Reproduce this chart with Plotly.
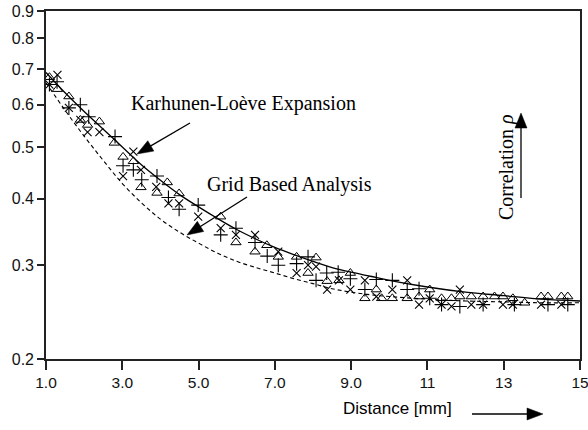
import math
import plotly.graph_objects as go

# ---- data -------------------------------------------------------------
# Karhunen-Loeve expansion curve (solid)
kl_x = [1.0, 1.5, 2.0, 2.5, 3.0, 3.5, 4.0, 4.5, 5.0, 5.5, 6.0, 6.5, 7.0, 7.5,
        8.0, 8.5, 9.0, 9.5, 10.0, 11.0, 12.0, 13.0, 14.0, 15.0]
kl_y = [0.690, 0.632, 0.583, 0.540, 0.500, 0.463, 0.433, 0.407, 0.386, 0.367,
        0.350, 0.336, 0.324, 0.314, 0.305, 0.297, 0.291, 0.286, 0.281, 0.273,
        0.267, 0.263, 0.259, 0.257]

# Grid based analysis curve (dashed)
gb_x = [1.0, 1.5, 2.0, 2.5, 3.0, 3.5, 4.0, 4.5, 5.0, 5.5, 6.0, 6.5, 7.0, 7.5,
        8.0, 8.5, 9.0, 9.5, 10.0, 11.0, 12.0, 13.0, 14.0, 15.0]
gb_y = [0.660, 0.586, 0.524, 0.472, 0.427, 0.393, 0.366, 0.346, 0.330, 0.316,
        0.305, 0.297, 0.290, 0.283, 0.277, 0.271, 0.267, 0.264, 0.262, 0.259,
        0.257, 0.256, 0.255, 0.255]

# measured samples, three marker types
tri_x = [1.09, 1.30, 1.60, 1.90, 2.09, 2.40, 2.79, 3.02, 3.29, 3.49, 3.91, 4.18,
         4.49, 5.58, 5.98, 6.48, 6.79, 7.09, 7.57, 7.87, 8.08, 8.37, 8.68, 8.98,
         9.36, 9.66, 9.80, 10.08, 10.47, 10.78, 11.06, 11.37, 11.63, 11.85, 12.15,
         12.46, 12.76, 12.98, 13.24, 13.55, 13.98, 14.16, 14.51, 14.68]
tri_y = [0.676, 0.642, 0.622, 0.562, 0.550, 0.558, 0.509, 0.479, 0.470, 0.420,
         0.410, 0.429, 0.409, 0.370, 0.331, 0.318, 0.327, 0.311, 0.311, 0.290,
         0.310, 0.280, 0.281, 0.290, 0.260, 0.270, 0.260, 0.260, 0.260, 0.262,
         0.270, 0.260, 0.260, 0.262, 0.262, 0.262, 0.262, 0.262, 0.260, 0.255,
         0.262, 0.262, 0.262, 0.262]

plus_x = [1.09, 1.29, 1.60, 1.90, 2.12, 2.81, 3.02, 3.29, 3.51, 3.91, 4.21, 4.49,
          4.99, 5.58, 5.98, 6.48, 6.80, 7.09, 7.57, 7.87, 8.08, 8.36, 8.66, 8.98,
          9.36, 9.66, 10.08, 10.47, 10.78, 11.06, 11.37, 11.85, 12.46, 13.28,
          14.16, 14.68]
plus_y = [0.655, 0.663, 0.592, 0.600, 0.570, 0.523, 0.461, 0.453, 0.434, 0.441,
          0.402, 0.382, 0.389, 0.342, 0.352, 0.331, 0.312, 0.300, 0.302, 0.311,
          0.281, 0.290, 0.291, 0.283, 0.270, 0.282, 0.281, 0.270, 0.271, 0.260,
          0.253, 0.251, 0.253, 0.253, 0.253, 0.253]

cross_x = [1.09, 1.30, 1.60, 1.90, 2.09, 2.40, 3.02, 3.29, 3.49, 3.89, 4.21, 4.49,
           4.99, 5.58, 5.98, 6.48, 7.09, 7.57, 7.87, 8.08, 8.37, 8.68, 8.98, 9.36,
           9.66, 10.08, 10.47, 10.78, 11.06, 11.37, 11.63, 11.85, 12.15, 12.46,
           12.98, 13.24, 13.98, 14.51]
cross_y = [0.655, 0.683, 0.592, 0.562, 0.533, 0.533, 0.441, 0.490, 0.453, 0.421,
           0.392, 0.392, 0.370, 0.352, 0.342, 0.342, 0.318, 0.290, 0.300, 0.298,
           0.270, 0.281, 0.270, 0.281, 0.262, 0.270, 0.281, 0.253, 0.260, 0.253,
           0.251, 0.270, 0.253, 0.253, 0.253, 0.253, 0.253, 0.253]

x_ticks = [1, 3, 5, 7, 9, 11, 13, 15]
x_tick_text = ["1.0", "3.0", "5.0", "7.0", "9.0", "11", "13", "15"]
y_ticks = [0.2, 0.3, 0.4, 0.5, 0.6, 0.7, 0.8, 0.9]
y_tick_text = ["0.2", "0.3", "0.4", "0.5", "0.6", "0.7", "0.8", "0.9"]

# ---- geometry helpers --------------------------------------------------
W, H = 588, 430
ML, MR, MT, MB = 46, 8, 11, 71
PW, PH = W - ML - MR, H - MT - MB


def paper(px, py):
    return (px - ML) / PW, (H - MB - py) / PH


def arrow(x0, y0, x1, y1, head_len=15, head_half=5.5, width=1.3):
    """Shaft from (x0, y0) plus a filled head at (x1, y1), in pixels."""
    dx, dy = x1 - x0, y1 - y0
    d = math.hypot(dx, dy)
    ux, uy = dx / d, dy / d
    bx, by = x1 - ux * head_len, y1 - uy * head_len
    nx, ny = -uy, ux
    a0 = paper(x0, y0)
    a1 = paper(bx + ux * 2, by + uy * 2)
    pts = [paper(x1, y1),
           paper(bx + nx * head_half, by + ny * head_half),
           paper(bx - nx * head_half, by - ny * head_half)]
    path = "M{:.5f},{:.5f} L{:.5f},{:.5f} L{:.5f},{:.5f} Z".format(
        pts[0][0], pts[0][1], pts[1][0], pts[1][1], pts[2][0], pts[2][1])
    return [
        dict(type="line", xref="paper", yref="paper",
             x0=a0[0], y0=a0[1], x1=a1[0], y1=a1[1],
             line=dict(color="black", width=width)),
        dict(type="path", xref="paper", yref="paper", path=path,
             fillcolor="black", line=dict(color="black", width=0.5)),
    ]


def label(text, px, py, size, family, angle=0):
    x, y = paper(px, py)
    return dict(text=text, x=x, y=y, xref="paper", yref="paper",
                xanchor="center", yanchor="middle", showarrow=False,
                textangle=angle, font=dict(family=family, size=size, color="black"))


SERIF = "Liberation Serif, Times New Roman, serif"
SANS = "Liberation Sans, Arial, sans-serif"

# ---- figure ------------------------------------------------------------
fig = go.Figure()

fig.add_trace(go.Scatter(x=gb_x, y=gb_y, mode="lines", line_shape="spline",
                         line=dict(color="black", width=1.1, dash="4px,3px"),
                         hoverinfo="skip"))
fig.add_trace(go.Scatter(x=kl_x, y=kl_y, mode="lines", line_shape="spline",
                         line=dict(color="black", width=1.3), hoverinfo="skip"))

fig.add_trace(go.Scatter(x=tri_x, y=tri_y, mode="markers",
                         marker=dict(symbol="triangle-up-open", size=9,
                                     color="black", line=dict(width=1, color="black"))))
fig.add_trace(go.Scatter(x=plus_x, y=plus_y, mode="markers",
                         marker=dict(symbol="cross-thin-open", size=10,
                                     color="black", line=dict(width=1.1, color="black"))))
fig.add_trace(go.Scatter(x=cross_x, y=cross_y, mode="markers",
                         marker=dict(symbol="x-thin-open", size=8,
                                     color="black", line=dict(width=1.1, color="black"))))

shapes = []
shapes += arrow(190, 123, 137, 154, head_len=16, head_half=6)
shapes += arrow(247, 197, 187, 235, head_len=16, head_half=6)
shapes += arrow(521, 198, 521, 113, head_len=15, head_half=6)
shapes += arrow(472, 414, 543, 414, head_len=16, head_half=6)

annotations = [
    label("Karhunen-Loève Expansion", 243, 103, 20, SERIF),
    label("Grid Based Analysis", 289.5, 184, 20, SERIF),
    label("Correlation <i>ρ</i>", 506, 167, 20, SERIF, angle=-90),
    label("Distance [mm]", 397, 408, 17, SANS),
]

fig.update_layout(
    width=W, height=H,
    margin=dict(l=ML, r=MR, t=MT, b=MB, pad=0, autoexpand=False),
    paper_bgcolor="white", plot_bgcolor="white",
    showlegend=False,
    shapes=shapes,
    annotations=annotations,
    xaxis=dict(range=[1, 15], tickvals=x_ticks, ticktext=x_tick_text,
               ticks="outside", ticklen=9, tickwidth=1.5, tickcolor="#222",
               showline=True, linecolor="#222", linewidth=1.6, mirror=True,
               showgrid=False, zeroline=False, automargin=False,
               ticklabeloverflow="allow",
               tickfont=dict(family=SANS, size=15.5, color="#111")),
    yaxis=dict(type="log", range=[math.log10(0.2), math.log10(0.9)],
               tickvals=y_ticks, ticktext=y_tick_text,
               ticks="outside", ticklen=7, tickwidth=1.5, tickcolor="#222",
               showline=True, linecolor="#222", linewidth=1.6, mirror=True,
               showgrid=False, zeroline=False, automargin=False,
               ticklabeloverflow="allow",
               tickfont=dict(family=SANS, size=16, color="#111")),
)

fig.write_html("out.html")
